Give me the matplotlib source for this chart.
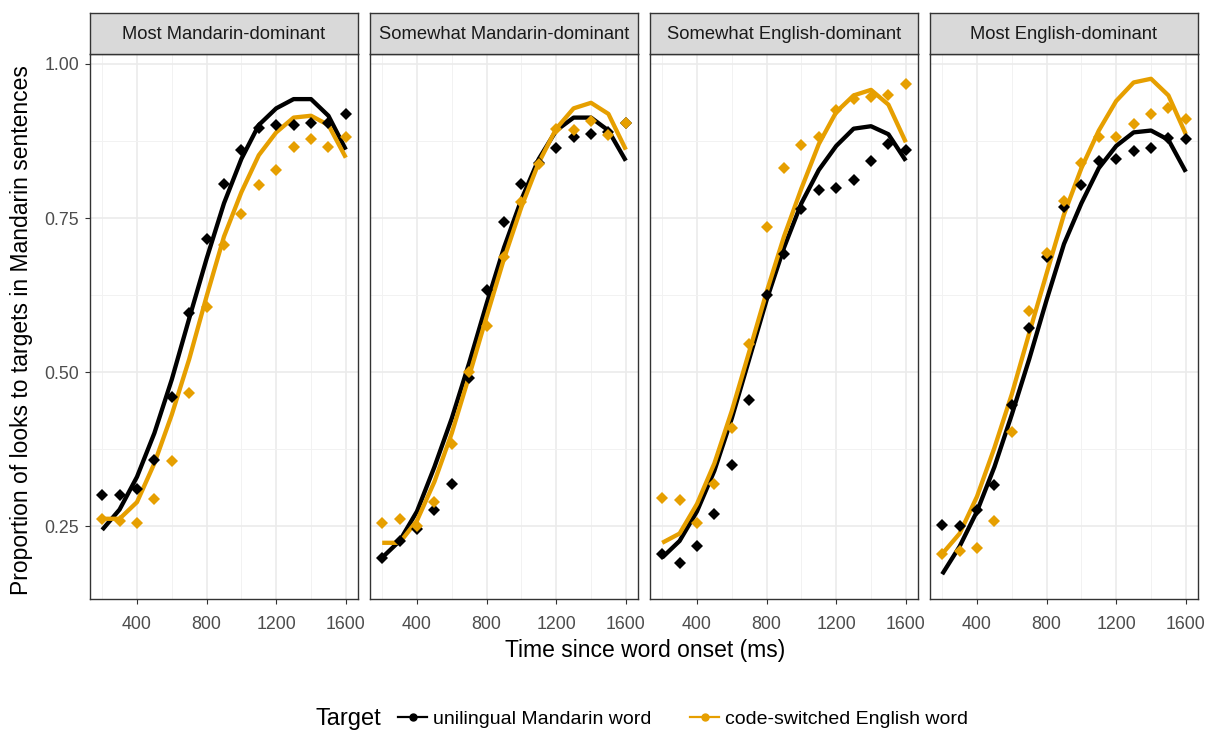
import matplotlib.pyplot as plt
from matplotlib.lines import Line2D
import numpy as np

plt.rcParams['font.family'] = ['Liberation Sans', 'DejaVu Sans']

time = [200, 300, 400, 500, 600, 700, 800, 900, 1000, 1100, 1200, 1300, 1400, 1500, 1600]
groups = ['Most Mandarin-dominant', 'Somewhat Mandarin-dominant',
          'Somewhat English-dominant', 'Most English-dominant']

# observed proportions (points)
mand_obs = [
    [0.301, 0.301, 0.310, 0.358, 0.460, 0.596, 0.716, 0.806, 0.860, 0.896, 0.901, 0.901, 0.904, 0.904, 0.919],
    [0.199, 0.226, 0.245, 0.277, 0.318, 0.490, 0.634, 0.744, 0.806, 0.840, 0.863, 0.881, 0.887, 0.890, 0.904],
    [0.205, 0.190, 0.217, 0.269, 0.349, 0.455, 0.625, 0.691, 0.765, 0.795, 0.799, 0.811, 0.843, 0.870, 0.861],
    [0.252, 0.250, 0.277, 0.316, 0.447, 0.572, 0.687, 0.768, 0.803, 0.843, 0.845, 0.858, 0.863, 0.880, 0.878],
]
eng_obs = [
    [0.262, 0.259, 0.255, 0.294, 0.355, 0.466, 0.605, 0.707, 0.756, 0.804, 0.828, 0.866, 0.878, 0.866, 0.881],
    [0.255, 0.262, 0.250, 0.290, 0.383, 0.500, 0.575, 0.687, 0.776, 0.837, 0.895, 0.893, 0.908, 0.884, 0.904],
    [0.295, 0.292, 0.255, 0.319, 0.410, 0.546, 0.736, 0.831, 0.869, 0.881, 0.925, 0.943, 0.946, 0.949, 0.968],
    [0.205, 0.209, 0.214, 0.259, 0.402, 0.599, 0.693, 0.777, 0.840, 0.881, 0.881, 0.902, 0.919, 0.928, 0.910],
]

# model fitted values (lines)
mand_fit = [
    [0.244, 0.277, 0.330, 0.401, 0.488, 0.587, 0.684, 0.774, 0.846, 0.901, 0.928, 0.943, 0.943, 0.916, 0.861],
    [0.199, 0.226, 0.274, 0.346, 0.425, 0.515, 0.611, 0.702, 0.780, 0.846, 0.892, 0.913, 0.913, 0.892, 0.843],
    [0.199, 0.226, 0.274, 0.340, 0.425, 0.521, 0.617, 0.702, 0.774, 0.828, 0.867, 0.895, 0.899, 0.886, 0.843],
    [0.172, 0.217, 0.274, 0.346, 0.431, 0.521, 0.617, 0.708, 0.774, 0.831, 0.867, 0.889, 0.892, 0.877, 0.825],
]
eng_fit = [
    [0.262, 0.262, 0.289, 0.352, 0.431, 0.521, 0.623, 0.720, 0.792, 0.852, 0.889, 0.913, 0.916, 0.901, 0.848],
    [0.223, 0.223, 0.259, 0.322, 0.401, 0.494, 0.590, 0.684, 0.768, 0.840, 0.895, 0.928, 0.937, 0.919, 0.861],
    [0.223, 0.238, 0.286, 0.352, 0.437, 0.533, 0.630, 0.720, 0.798, 0.870, 0.922, 0.949, 0.958, 0.934, 0.873],
    [0.205, 0.238, 0.298, 0.377, 0.464, 0.563, 0.660, 0.756, 0.831, 0.892, 0.940, 0.970, 0.976, 0.949, 0.886],
]

black = '#000000'
orange = '#E69F00'

W, H = 1207, 731
fig = plt.figure(figsize=(W / 100, H / 100), dpi=100)

# ggplot-style 5% expansion of the data range
allv = np.concatenate([np.ravel(mand_obs), np.ravel(eng_obs), np.ravel(mand_fit), np.ravel(eng_fit)])
lo, hi = allv.min(), allv.max()
ylim = (lo - 0.05 * (hi - lo), hi + 0.05 * (hi - lo))
xlim = (min(time) - 0.05 * (max(time) - min(time)), max(time) + 0.05 * (max(time) - min(time)))

lefts = [90, 370, 650, 930]
pw, top, bot = 268, 54, 599
strip_top = 13

for i, g in enumerate(groups):
    ax = fig.add_axes([lefts[i] / W, 1 - bot / H, pw / W, (bot - top) / H])
    ax.set_xlim(xlim)
    ax.set_ylim(ylim)
    ax.set_xticks([400, 800, 1200, 1600])
    ax.set_xticks([200, 600, 1000, 1400], minor=True)
    ax.set_yticks([0.25, 0.5, 0.75, 1.0])
    ax.set_yticks([0.375, 0.625, 0.875], minor=True)
    ax.grid(which='major', color='#EBEBEB', lw=1.2, zorder=0)
    ax.grid(which='minor', color='#F2F2F2', lw=0.7, zorder=0)
    ax.set_axisbelow(True)
    for s in ax.spines.values():
        s.set_color('#333333')
        s.set_linewidth(1.0)
    ax.tick_params(which='minor', length=0)
    ax.tick_params(which='major', length=3.5, color='#333333', labelcolor='#4D4D4D',
                   labelsize=12.8)
    ax.tick_params(axis='x', pad=9)
    ax.tick_params(axis='y', pad=4.5)
    if i == 0:
        ax.set_yticklabels(['0.25', '0.50', '0.75', '1.00'])
    else:
        ax.tick_params(axis='y', length=0, labelleft=False)

    ax.plot(time, mand_fit[i], color=black, lw=3.1, solid_capstyle='butt', zorder=3)
    ax.plot(time, eng_fit[i], color=orange, lw=3.1, solid_capstyle='butt', zorder=4)
    ax.plot(time, mand_obs[i], 'D', color=black, ms=6.3, mew=0, zorder=5)
    ax.plot(time, eng_obs[i], 'D', color=orange, ms=6.3, mew=0, zorder=6)

    # facet strip
    sax = fig.add_axes([lefts[i] / W, 1 - top / H, pw / W, (top - strip_top) / H])
    sax.set_facecolor('#D9D9D9')
    sax.set_xticks([])
    sax.set_yticks([])
    for s in sax.spines.values():
        s.set_color('#333333')
        s.set_linewidth(1.0)
    sax.text(0.5, 0.47, g, ha='center', va='center', fontsize=13.2, color='#1A1A1A',
             transform=sax.transAxes)

fig.text(645 / W, 1 - 650 / H, 'Time since word onset (ms)', ha='center', va='center', fontsize=16.5)
fig.text(22 / W, 1 - 330 / H, 'Proportion of looks to targets in Mandarin sentences',
         ha='center', va='center', rotation=90, fontsize=16.5)

handles = [Line2D([], [], color=black, marker='o', ms=5, lw=1.6),
           Line2D([], [], color=orange, marker='o', ms=5, lw=1.6)]
fig.text(316 / W, 1 - 719 / H, 'Target', ha='left', va='center', fontsize=17)
fig.legend(handles, ['unilingual Mandarin word', 'code-switched English word'],
           loc='center left', bbox_to_anchor=(398 / W, 1 - 719 / H), ncol=2, frameon=False,
           fontsize=14, handlelength=1.5, handletextpad=0.3, columnspacing=2.0,
           borderaxespad=0, borderpad=0)

plt.savefig('out.png', dpi=100)
